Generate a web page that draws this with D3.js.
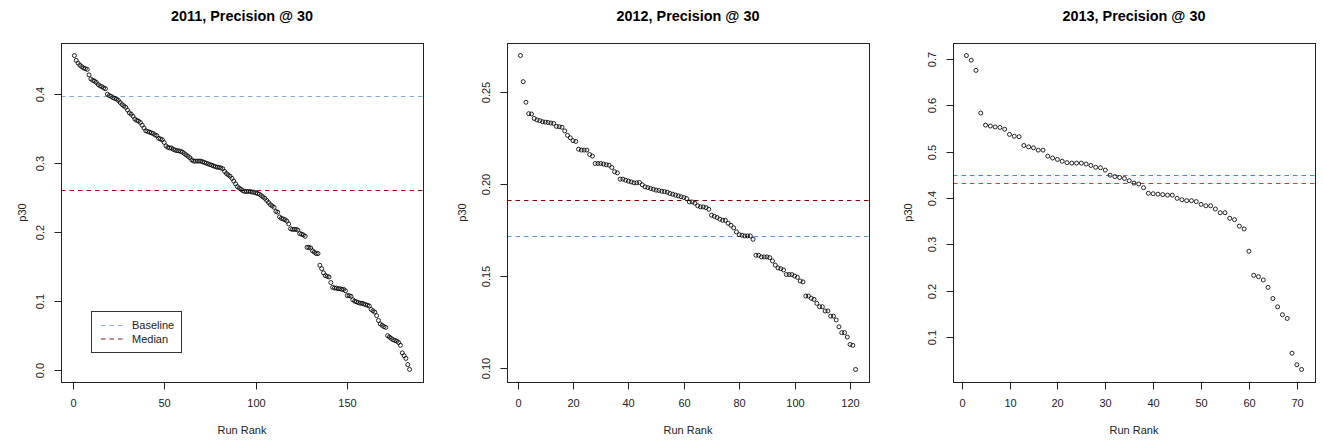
<!DOCTYPE html>
<html>
<head>
<meta charset="utf-8">
<script src="https://cdn.jsdelivr.net/npm/d3@7"></script>
<style>
  body { margin: 0; background: #fff; }
  svg text { font-family: "Liberation Sans", Arial, Helvetica, sans-serif; fill: #222; }
  .title { font-size: 14.4px; font-weight: bold; fill: #000; }
  .tick-label, .axis-label, .legend-label { font-size: 11px; }
</style>
</head>
<body>
<svg width="1323" height="443"></svg>
<script>
/** Precision @ 30 by run rank, one panel per year **/

// years shown, one panel each
var years = [2011, 2012, 2013];

// p30 of every run, sorted by rank
var p30_2011 = [
  0.456, 0.449, 0.445, 0.442, 0.440, 0.438, 0.437, 0.436, 0.428, 0.422,
  0.420, 0.419, 0.417, 0.414, 0.412, 0.411, 0.409, 0.408, 0.400, 0.398,
  0.397, 0.395, 0.394, 0.393, 0.391, 0.388, 0.385, 0.383, 0.381, 0.377,
  0.373, 0.371, 0.368, 0.364, 0.362, 0.361, 0.359, 0.355, 0.351, 0.347,
  0.346, 0.345, 0.344, 0.343, 0.341, 0.340, 0.336, 0.335, 0.334, 0.330,
  0.325, 0.323, 0.322, 0.322, 0.320, 0.319, 0.318, 0.318, 0.317, 0.316,
  0.314, 0.312, 0.310, 0.308, 0.305, 0.303, 0.303, 0.303, 0.303, 0.303,
  0.302, 0.301, 0.300, 0.299, 0.298, 0.297, 0.296, 0.295, 0.294, 0.294,
  0.293, 0.292, 0.288, 0.285, 0.283, 0.281, 0.278, 0.274, 0.270, 0.266,
  0.264, 0.262, 0.260, 0.259, 0.259, 0.259, 0.259, 0.258, 0.258, 0.257,
  0.256, 0.255, 0.253, 0.251, 0.249, 0.246, 0.243, 0.240, 0.238, 0.236,
  0.230, 0.229, 0.222, 0.220, 0.219, 0.218, 0.216, 0.212, 0.205, 0.204,
  0.204, 0.204, 0.203, 0.198, 0.197, 0.196, 0.194, 0.178, 0.178, 0.177,
  0.173, 0.171, 0.169, 0.169, 0.152, 0.147, 0.141, 0.137, 0.136, 0.135,
  0.127, 0.120, 0.119, 0.119, 0.118, 0.118, 0.117, 0.117, 0.115, 0.108,
  0.108, 0.107, 0.102, 0.100, 0.099, 0.098, 0.097, 0.097, 0.096, 0.095,
  0.094, 0.093, 0.088, 0.086, 0.084, 0.079, 0.072, 0.067, 0.065, 0.063,
  0.062, 0.050, 0.048, 0.046, 0.044, 0.043, 0.042, 0.040, 0.036, 0.025,
  0.021, 0.017, 0.008, 0.001
];

var p30_2012 = [
  0.2700, 0.2558, 0.2446, 0.2384, 0.2382, 0.2358, 0.2350, 0.2346, 0.2340, 0.2338,
  0.2336, 0.2333, 0.2331, 0.2315, 0.2313, 0.2310, 0.2290, 0.2266, 0.2253, 0.2237,
  0.2233, 0.2191, 0.2186, 0.2186, 0.2186, 0.2162, 0.2153, 0.2113, 0.2113, 0.2113,
  0.2110, 0.2106, 0.2104, 0.2091, 0.2068, 0.2062, 0.2028, 0.2028, 0.2022, 0.2017,
  0.2013, 0.2008, 0.2008, 0.2010, 0.1997, 0.1986, 0.1982, 0.1977, 0.1973, 0.1968,
  0.1966, 0.1962, 0.1960, 0.1957, 0.1950, 0.1946, 0.1941, 0.1937, 0.1932, 0.1928,
  0.1922, 0.1904, 0.1904, 0.1897, 0.1883, 0.1877, 0.1877, 0.1873, 0.1864, 0.1832,
  0.1826, 0.1819, 0.1810, 0.1804, 0.1804, 0.1788, 0.1777, 0.1763, 0.1741, 0.1726,
  0.1723, 0.1719, 0.1719, 0.1719, 0.1701, 0.1614, 0.1614, 0.1605, 0.1605, 0.1605,
  0.1601, 0.1583, 0.1560, 0.1545, 0.1541, 0.1534, 0.1509, 0.1509, 0.1509, 0.1501,
  0.1494, 0.1474, 0.1469, 0.1392, 0.1392, 0.1380, 0.1374, 0.1352, 0.1334, 0.1334,
  0.1311, 0.1311, 0.1283, 0.1283, 0.1262, 0.1225, 0.1193, 0.1193, 0.1169, 0.1129,
  0.1124, 0.0993
];

var p30_2013 = [
  0.707, 0.697, 0.675, 0.583, 0.557, 0.555, 0.553, 0.552, 0.548, 0.537,
  0.533, 0.532, 0.513, 0.510, 0.508, 0.503, 0.503, 0.490, 0.486, 0.483,
  0.479, 0.476, 0.475, 0.475, 0.475, 0.473, 0.470, 0.466, 0.465, 0.460,
  0.449, 0.446, 0.444, 0.442, 0.437, 0.432, 0.430, 0.422, 0.410, 0.409,
  0.408, 0.407, 0.406, 0.406, 0.399, 0.396, 0.394, 0.394, 0.392, 0.386,
  0.383, 0.383, 0.376, 0.368, 0.368, 0.356, 0.353, 0.339, 0.333, 0.285,
  0.233, 0.230, 0.223, 0.207, 0.183, 0.165, 0.148, 0.140, 0.065, 0.040,
  0.030
];

// baseline p30 per year
var baselines = [0.397, 0.172, 0.450];

// tick labels
var xTicks_2011 = [0, 50, 100, 150];
var xTicks_2012 = [0, 20, 40, 60, 80, 100, 120];
var xTicks_2013 = [0, 10, 20, 30, 40, 50, 60, 70];
var yTicks_2011 = ["0.0", "0.1", "0.2", "0.3", "0.4"];
var yTicks_2012 = ["0.10", "0.15", "0.20", "0.25"];
var yTicks_2013 = ["0.1", "0.2", "0.3", "0.4", "0.5", "0.6", "0.7"];

var legendNames = ["Baseline", "Median"];

// layout and colours
var boxLefts = [61, 507, 953];
var boxTop = 43, boxW = 362, boxH = 339;
var ylabOffsets = [39, 45, 45];
var baselineColors = ["#86aad6", "#5a9ad8", "#4a86cc"];
var medianColors = ["#a00e0e", "#8b0000", "#d23a3a"];

var svg = d3.select("svg");

/**
	R style padded domain: 4% on each side
**/
function padded(lo, hi){
	var pad = (hi - lo) * 0.04;
	return [lo - pad, hi + pad];
}

/**
	Draws one panel: points, reference lines, box, axes and labels
**/
function draw_panel(i, values, xTicks, yTicks){
	var left = boxLefts[i];
	var g = svg.append("g").attr("transform", "translate(" + left + "," + boxTop + ")");

	var xScale = d3.scaleLinear()
		.domain(padded(1, values.length))
		.range([0, boxW]);

	var ext = d3.extent(values);
	var yScale = d3.scaleLinear()
		.domain(padded(ext[0], ext[1]))
		.range([boxH, 0]);

	// reference lines across the whole box
	var median = d3.median(values);
	var refs = [
		{v: baselines[i], c: baselineColors[i]},
		{v: median, c: medianColors[i]}
	];
	g.selectAll("line.ref")
		.data(refs)
		.enter()
		.append("line")
			.attr("class", "ref")
			.attr("x1", 0)
			.attr("x2", boxW)
			.attr("y1", (d) => Math.round(yScale(d.v)) + 0.5)
			.attr("y2", (d) => Math.round(yScale(d.v)) + 0.5)
			.attr("stroke", (d) => d.c)
			.attr("stroke-width", 1)
			.attr("stroke-dasharray", "4.5,4");

	// points
	g.selectAll("circle.pt")
		.data(values)
		.enter()
		.append("circle")
			.attr("class", "pt")
			.attr("cx", (d, k) => xScale(k + 1))
			.attr("cy", (d) => yScale(d))
			.attr("r", 2)
			.attr("fill", "none")
			.attr("stroke", "#000")
			.attr("stroke-width", 0.85);

	// plot box
	g.append("rect")
		.attr("x", 0.5)
		.attr("y", 0.5)
		.attr("width", boxW)
		.attr("height", boxH)
		.attr("fill", "none")
		.attr("stroke", "#222")
		.attr("stroke-width", 1);

	// x axis
	var xAxis = g.append("g").attr("transform", "translate(0," + (boxH + 0.5) + ")");
	xAxis.append("line")
		.attr("x1", Math.round(xScale(xTicks[0])) + 0.5)
		.attr("x2", Math.round(xScale(xTicks[xTicks.length - 1])) + 0.5)
		.attr("stroke", "#222");
	var xt = xAxis.selectAll("g.xt")
		.data(xTicks)
		.enter()
		.append("g")
			.attr("transform", (d) => "translate(" + (Math.round(xScale(d)) + 0.5) + ",0)");
	xt.append("line").attr("y2", 7).attr("stroke", "#222");
	xt.append("text")
		.attr("class", "tick-label")
		.attr("y", 21)
		.attr("dy", "0.35em")
		.style("text-anchor", "middle")
		.text((d) => d);

	// y axis, labels rotated like base R
	var yAxis = g.append("g").attr("transform", "translate(0.5,0)");
	yAxis.append("line")
		.attr("y1", Math.round(yScale(+yTicks[0])) + 0.5)
		.attr("y2", Math.round(yScale(+yTicks[yTicks.length - 1])) + 0.5)
		.attr("stroke", "#222");
	var yt = yAxis.selectAll("g.yt")
		.data(yTicks)
		.enter()
		.append("g")
			.attr("transform", (d) => "translate(0," + (Math.round(yScale(+d)) + 0.5) + ")");
	yt.append("line").attr("x2", -7).attr("stroke", "#222");
	yt.append("text")
		.attr("class", "tick-label")
		.attr("transform", "translate(-21,0) rotate(-90)")
		.attr("dy", "0.35em")
		.style("text-anchor", "middle")
		.text((d) => d);

	// titles
	g.append("text")
		.attr("class", "title")
		.attr("x", boxW / 2)
		.attr("y", 16 - boxTop)
		.attr("dy", "0.35em")
		.style("text-anchor", "middle")
		.text(years[i] + ", Precision @ 30");

	g.append("text")
		.attr("class", "axis-label")
		.attr("x", boxW / 2)
		.attr("y", 430 - boxTop)
		.attr("dy", "0.35em")
		.style("text-anchor", "middle")
		.text("Run Rank");

	g.append("text")
		.attr("class", "axis-label")
		.attr("transform", "translate(" + (-ylabOffsets[i]) + "," + (boxH / 2) + ") rotate(-90)")
		.attr("dy", "0.35em")
		.style("text-anchor", "middle")
		.text("p30");

	return {g: g, refs: refs};
}

/**
	Legend in the lower left of the first panel
**/
function draw_legend(panel){
	var lg = panel.g.append("g")
		.attr("transform", "translate(30," + (boxH - 30 - 41) + ")");

	lg.append("rect")
		.attr("x", 0.5)
		.attr("y", 0.5)
		.attr("width", 90)
		.attr("height", 41)
		.attr("fill", "#fff")
		.attr("stroke", "#333");

	var rows = lg.selectAll("g.row")
		.data(panel.refs)
		.enter()
		.append("g")
			.attr("transform", (d, k) => "translate(0," + (14.5 + k * 13.5) + ")");

	rows.append("line")
		.attr("x1", 10)
		.attr("x2", 32)
		.attr("stroke", (d) => d.c)
		.attr("stroke-width", 1)
		.attr("stroke-dasharray", "4.5,4");

	rows.append("text")
		.attr("class", "legend-label")
		.attr("x", 41)
		.attr("dy", "0.35em")
		.text((d, k) => legendNames[k]);
}

var p1 = draw_panel(0, p30_2011, xTicks_2011, yTicks_2011);
draw_panel(1, p30_2012, xTicks_2012, yTicks_2012);
draw_panel(2, p30_2013, xTicks_2013, yTicks_2013);
draw_legend(p1);
</script>
</body>
</html>
